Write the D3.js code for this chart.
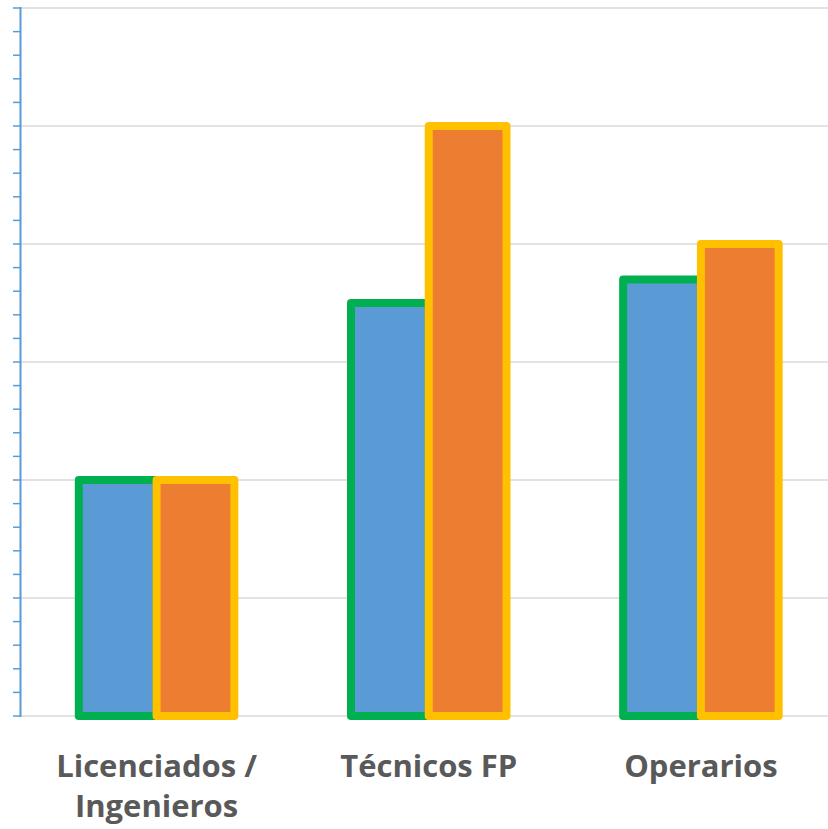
<!DOCTYPE html>
<html>
<head>
<meta charset="utf-8">
<script src="https://cdn.jsdelivr.net/npm/d3@7"></script>
<style>
  body { margin: 0; background: #fff; }
  svg { display: block; }
  .cat-label { font-family: "Open Sans", sans-serif; font-weight: bold; fill: #595959; }
</style>
</head>
<body>
<svg class="chart" width="828" height="829"></svg>
<script>
// data
var categories = ["Licenciados / Ingenieros", "Técnicos FP", "Operarios"];
var labelLines = [["Licenciados /", "Ingenieros"], ["Técnicos FP"], ["Operarios"]];
var series1 = [2, 3.5, 3.7];
var series2 = [2, 5, 4];
var yMax = 6;

var svg = d3.select(".chart");

var plot = { left: 20.5, right: 837, top: 8, bottom: 716 };

var x = d3.scaleBand()
	.domain(categories)
	.range([plot.left, plot.right])
	.paddingInner(0)
	.paddingOuter(0);

var y = d3.scaleLinear()
	.domain([0, yMax])
	.range([plot.bottom, plot.top]);

// gridlines
svg.append("g")
	.attr("class", "grid")
	.selectAll("line")
	.data(d3.range(0, yMax + 1))
	.enter().append("line")
	.attr("x1", plot.left)
	.attr("x2", 828)
	.attr("y1", function(d) { return y(d); })
	.attr("y2", function(d) { return y(d); })
	.attr("stroke", "#d9d9d9")
	.attr("stroke-width", 1.5);

// bars: bar width from a 150% gap
var bw = x.bandwidth() / 3.5;
var groups = categories.map(function(c, i) {
	return { cat: c, v1: series1[i], v2: series2[i] };
});

var seriesDefs = [
	{ key: "v1", fill: "#5B9BD5", stroke: "#00B050", off: -1 },
	{ key: "v2", fill: "#ED7D31", stroke: "#FFC000", off: 0 }
];

seriesDefs.forEach(function(s) {
	svg.append("g")
		.attr("class", "bars-" + s.key)
		.selectAll("rect")
		.data(groups)
		.enter().append("rect")
		.attr("x", function(d) { return x(d.cat) + x.bandwidth() / 2 + s.off * bw; })
		.attr("y", function(d) { return y(d[s.key]); })
		.attr("width", bw)
		.attr("height", function(d) { return y(0) - y(d[s.key]); })
		.attr("fill", s.fill)
		.attr("stroke", s.stroke)
		.attr("stroke-width", 8)
		.attr("stroke-linejoin", "round");
});

// y axis with minor ticks
var ticks = d3.range(0, yMax + 0.001, 0.2);
var axis = svg.append("g").attr("class", "y-axis");
axis.selectAll("line.tick")
	.data(ticks)
	.enter().append("line")
	.attr("class", "tick")
	.attr("x1", 13)
	.attr("x2", plot.left)
	.attr("y1", function(d) { return y(d); })
	.attr("y2", function(d) { return y(d); })
	.attr("stroke", "#5B9BD5")
	.attr("stroke-width", 1.5);
axis.append("line")
	.attr("x1", plot.left)
	.attr("x2", plot.left)
	.attr("y1", y(yMax) - 1)
	.attr("y2", y(0) + 1)
	.attr("stroke", "#5B9BD5")
	.attr("stroke-width", 2);

// category labels
var labels = svg.append("g").attr("class", "x-labels")
	.selectAll("text")
	.data(categories)
	.enter().append("text")
	.attr("class", "cat-label")
	.attr("text-anchor", "middle")
	.attr("font-size", 31)
	.attr("x", function(d) { return x(d) + x.bandwidth() / 2; })
	.attr("y", 777);

labels.each(function(d, i) {
	var t = d3.select(this);
	labelLines[i].forEach(function(line, j) {
		t.append("tspan")
			.attr("x", x(d) + x.bandwidth() / 2)
			.attr("dy", j === 0 ? 0 : 39.5)
			.text(line);
	});
});
</script>
</body>
</html>
